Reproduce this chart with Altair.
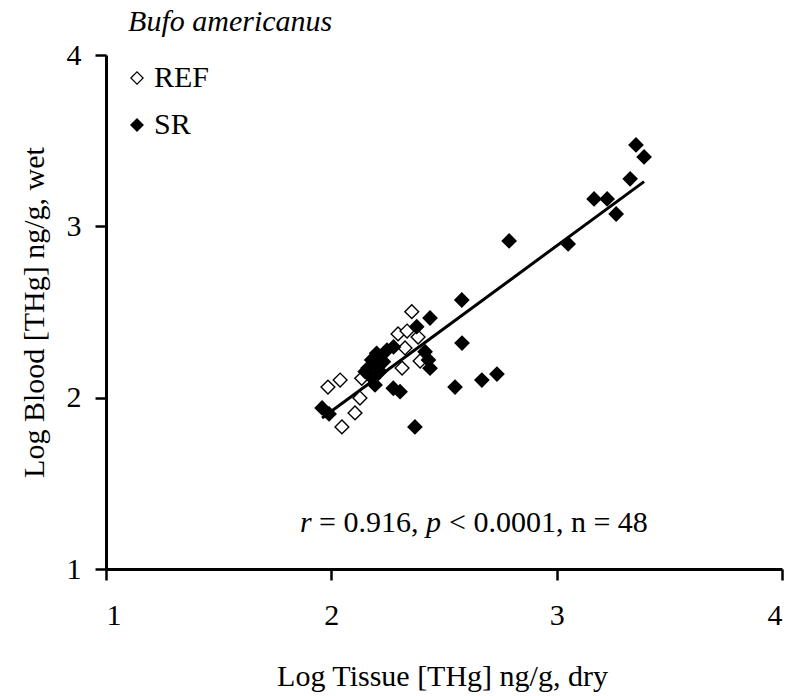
import altair as alt
import pandas as pd

# REF (open diamonds)
ref_x = [2.357, 2.296, 2.336, 2.385, 2.327, 2.394, 2.314, 2.135, 2.127, 2.105, 2.047, 1.985, 2.039]
ref_y = [2.502, 2.372, 2.389, 2.354, 2.290, 2.214, 2.173, 2.113, 1.998, 1.911, 1.829, 2.062, 2.103]
# SR (filled diamonds)
sr_x = [3.352, 3.388, 3.326, 3.166, 3.224, 3.264, 3.051, 2.789, 2.579, 2.580, 2.438, 2.735,
        2.668, 2.549, 2.371, 2.379, 2.276, 2.431, 2.438, 2.201, 2.179, 2.231, 2.150, 2.216,
        2.186, 2.194, 2.275, 2.305, 1.959, 1.990, 2.416, 2.163, 2.247, 2.200, 2.170]
sr_y = [3.475, 3.405, 3.277, 3.160, 3.160, 3.072, 2.897, 2.915, 2.570, 2.319, 2.465, 2.138,
        2.103, 2.062, 1.829, 2.414, 2.296, 2.220, 2.172, 2.259, 2.220, 2.210, 2.152, 2.152,
        2.113, 2.074, 2.055, 2.035, 1.940, 1.905, 2.268, 2.173, 2.278, 2.190, 2.130]

groups = ["REF", "SR"]
tick_values = [1, 2, 3, 4]

df = pd.DataFrame({
    "tissue": ref_x + sr_x,
    "blood": ref_y + sr_y,
    "group": ["REF"] * len(ref_x) + ["SR"] * len(sr_x),
})

# annotation segments (mixed italic / roman)
ann_text = ["r", "= 0.916,", "p", "< 0.0001, n = 48"]
ann_style = ["italic", "normal", "italic", "normal"]
ann_dx = [0, 19, 126, 149]
ann_x = 1.861
ann_y = 1.27

species = "Bufo americanus"
species_x = 1.098
species_y = 4.19

FONT = "Liberation Serif"
FS = 30

xscale = alt.Scale(domain=[1, 4], nice=False, zero=False)
yscale = alt.Scale(domain=[1, 4], nice=False, zero=False)

base = alt.Chart(df)

points = base.mark_point(shape="diamond", size=190, strokeWidth=1.4, opacity=1, stroke="black").encode(
    x=alt.X("tissue:Q", scale=xscale,
            axis=alt.Axis(values=tick_values, format="d", title="Log Tissue [THg] ng/g, dry",
                          titleX=336, titleY=107, titleBaseline="middle")),
    y=alt.Y("blood:Q", scale=yscale,
            axis=alt.Axis(values=tick_values, format="d", title="Log Blood [THg] ng/g, wet",
                          titleX=-72, titleY=257, titleAngle=-90, titleBaseline="middle",
                          titleAlign="center", labelPadding=14)),
    fill=alt.Fill("group:N", scale=alt.Scale(domain=groups, range=["white", "black"]),
                  legend=alt.Legend(orient="none", legendX=16, legendY=8, title=None,
                                    symbolType="diamond", symbolSize=150,
                                    symbolStrokeColor="black", symbolStrokeWidth=1.2,
                                    labelFont=FONT, labelFontSize=FS, labelColor="black",
                                    labelOffset=2, rowPadding=17, padding=0)),
)

line = base.transform_regression("tissue", "blood").mark_line(color="black", strokeWidth=3).encode(
    x=alt.X("tissue:Q", scale=xscale),
    y=alt.Y("blood:Q", scale=yscale),
)

layers = [line, points]
for t, s, d in zip(ann_text, ann_style, ann_dx):
    layers.append(
        alt.Chart(pd.DataFrame({"x": [ann_x], "y": [ann_y], "t": [t]}))
        .mark_text(font=FONT, fontSize=FS, fontStyle=s, align="left", baseline="middle",
                   dx=d, color="black")
        .encode(x=alt.X("x:Q", scale=xscale), y=alt.Y("y:Q", scale=yscale), text="t:N")
    )

layers.append(
    alt.Chart(pd.DataFrame({"x": [species_x], "y": [species_y], "t": [species]}))
    .mark_text(font=FONT, fontSize=FS, fontStyle="italic", align="left", baseline="middle",
               color="black")
    .encode(x=alt.X("x:Q", scale=xscale), y=alt.Y("y:Q", scale=yscale), text="t:N")
)

chart = alt.layer(*layers).properties(
    width=676, height=514,
    autosize=alt.AutoSizeParams(type="none"),
    padding={"left": 98, "top": 47, "right": 10, "bottom": 127},
).configure_view(stroke=None).configure_axis(
    grid=False, domainColor="black", domainWidth=3, tickColor="black", tickWidth=2.5,
    tickSize=11, labelFont=FONT, labelFontSize=FS, labelColor="black", labelPadding=20,
    titleFont=FONT, titleFontSize=FS, titleFontWeight="normal", titleColor="black",
)

chart.save("out.html", embed_options={"renderer": "svg", "actions": False})
